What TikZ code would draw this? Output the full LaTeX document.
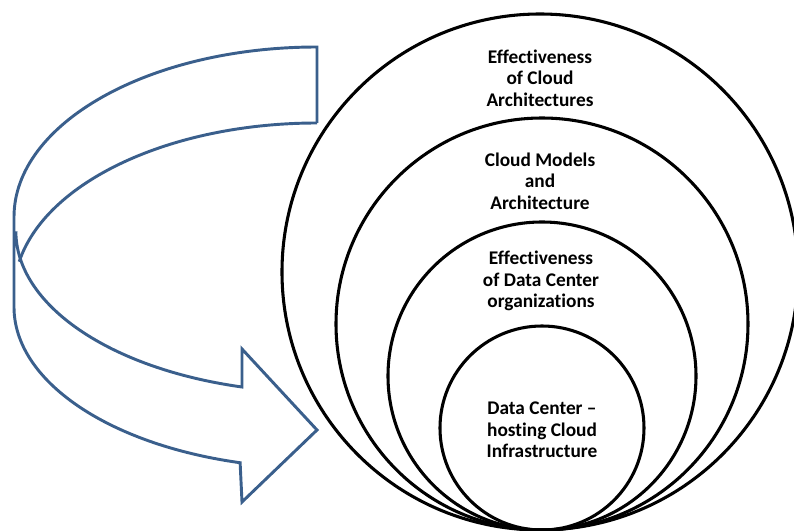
\documentclass[tikz,border=0pt]{standalone}
\usepackage{fontspec}
\setmainfont[Ligatures=NoCommon]{Carlito}
\definecolor{arrowblue}{RGB}{58,95,140}
\begin{document}
\begin{tikzpicture}[x=0.75pt,y=-0.75pt,
  ring/.style={draw=black,line width=2.3pt},
  band/.style={draw=arrowblue,line width=2.2pt,line join=miter},
  lbl/.style={font=\fontsize{14.5}{16}\selectfont\bfseries,align=center,text=black,inner sep=0pt}]
\useasboundingbox (0,0) rectangle (794,531);
% nested circles
\draw[ring] (540,272) circle[radius=258];
\draw[ring] (542,324) circle[radius=206];
\draw[ring] (542,376) circle[radius=154];
\draw[ring] (542,428) circle[radius=102];
% labels
\node[lbl] (l1) at (540,78) {Effectiveness\\of Cloud\\Architectures};
\node[lbl] (l2) at (540,181) {Cloud Models\\and\\Architecture};
\node[lbl] (l3) at (541,281) {Effectiveness\\of Data Center\\organizations};
\node[lbl] (l4) at (542,430) {Data Center --\\hosting Cloud\\Infrastructure};
% curved arrow
\coordinate (tailtop) at (317,47);
\coordinate (tailbot) at (317,123);
\coordinate (headtop) at (242,349);
\coordinate (tip) at (317,430);
\coordinate (headbot) at (242,502);
\draw[band] (tailbot) -- (tailtop)
  arc[start angle=270,end angle=180,x radius=303,y radius=170]
  -- (14,307)
  arc[start angle=180,end angle=104.7,x radius=303,y radius=161]
  -- (headbot) -- (tip) -- (headtop) -- (242,387)
  arc[start angle=104.7,end angle=180,x radius=303,y radius=161];
\draw[band] (tailbot)
  arc[start angle=270,end angle=190.6,x radius=303,y radius=170];
\end{tikzpicture}
\end{document}
